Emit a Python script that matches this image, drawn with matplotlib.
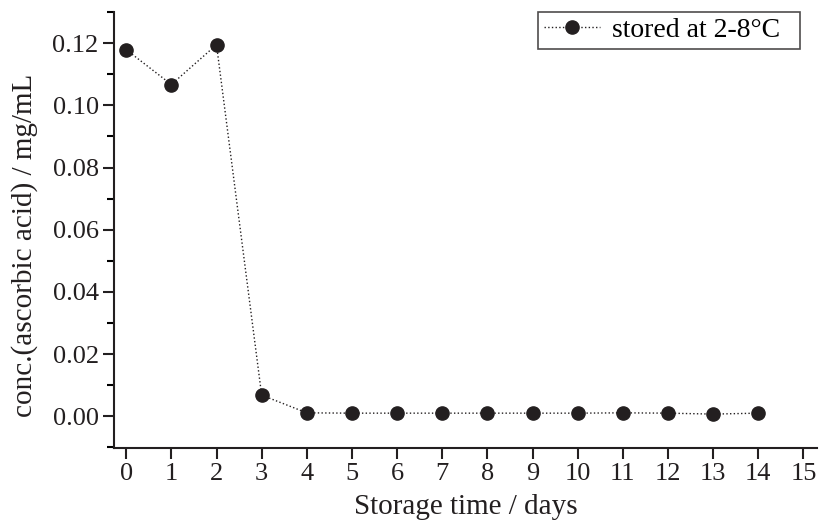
import matplotlib.pyplot as plt
from matplotlib.ticker import MultipleLocator

plt.rcParams['font.family'] = 'Liberation Serif'

# data
days = [0, 1, 2, 3, 4, 5, 6, 7, 8, 9, 10, 11, 12, 13, 14]
conc = [0.1179, 0.1067, 0.1195, 0.0068, 0.0011, 0.0010, 0.0010, 0.0010,
        0.0010, 0.0010, 0.0010, 0.0011, 0.0010, 0.0007, 0.0010]

fig = plt.figure(figsize=(8.22, 5.25), dpi=100)
ax = fig.add_axes([0.1387, 0.1467, 0.8552, 0.8303])

ax.plot(days, conc, color='#231f20', linestyle=':', linewidth=1.0,
        marker='o', markersize=9.5, markerfacecolor='#231f20',
        markeredgecolor='#231f20', label='stored at 2-8°C  ')

ax.set_xlim(-0.27, 15.3)
ax.set_ylim(-0.0102, 0.130)
ax.xaxis.set_major_locator(MultipleLocator(1))
ax.yaxis.set_major_locator(MultipleLocator(0.02))
ax.yaxis.set_minor_locator(MultipleLocator(0.01))
ax.yaxis.set_major_formatter(plt.FormatStrFormatter('%.2f'))

for s in ['top', 'right']:
    ax.spines[s].set_visible(False)
for s in ['left', 'bottom']:
    ax.spines[s].set_linewidth(1.5)
    ax.spines[s].set_color('#231f20')

ax.tick_params(axis='both', direction='out', labelsize=19, width=1.5,
               length=8, colors='#231f20', pad=3)
ax.tick_params(axis='y', which='minor', direction='out', width=1.5, length=5)

ax.set_xlabel('Storage time / days', fontsize=21, color='#231f20', labelpad=6)
ax.set_ylabel('conc.(ascorbic acid) / mg/mL', fontsize=21, color='#231f20')
ax.yaxis.set_label_coords(-0.108, 0.465)

leg = ax.legend(loc='upper right', fontsize=20, frameon=True, fancybox=False,
                handlelength=2.05, handletextpad=0.43, borderpad=0.2,
                borderaxespad=0, bbox_to_anchor=(0.976, 1.0))
leg.get_frame().set_edgecolor('#231f20')
leg.get_frame().set_linewidth(1.2)

plt.savefig('out.png', dpi=100)
